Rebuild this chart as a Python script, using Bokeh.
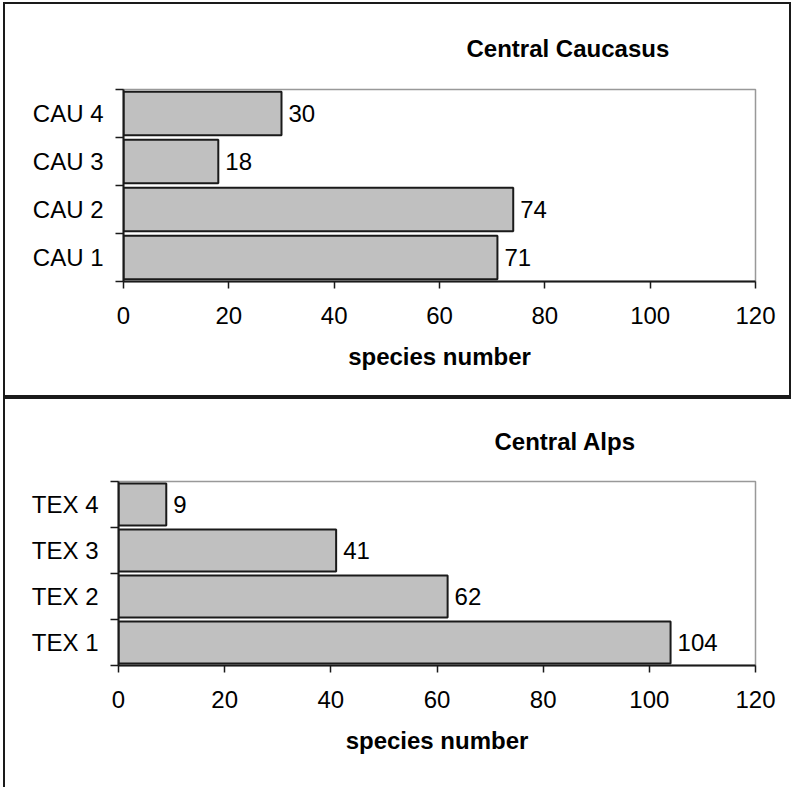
from bokeh.plotting import figure
from bokeh.models import (Range1d, FactorRange, LinearAxis, FixedTicker,
                          ColumnDataSource, LabelSet)
from bokeh.layouts import column
from bokeh.core.properties import value
from bokeh.embed import file_html
from bokeh.resources import INLINE

# ---- data -------------------------------------------------------------
cau_sites = ["CAU 1", "CAU 2", "CAU 3", "CAU 4"]
cau_species = [71, 74, 18, 30]
tex_sites = ["TEX 1", "TEX 2", "TEX 3", "TEX 4"]
tex_species = [104, 62, 41, 9]
x_ticks = [0, 20, 40, 60, 80, 100, 120]
panel_titles = ["Central Caucasus", "Central Alps"]
x_label = "species number"

FONT = "Liberation Sans"
DARK = "#1a1a1a"


def make_panel(sites, values, title, width, height, mb, title_offset, title_standoff, styles):
    p = figure(width=width, height=height,
               x_range=Range1d(0, 120),
               y_range=FactorRange(factors=sites, factor_padding=0, range_padding=0),
               y_axis_type=None,
               output_backend="svg", toolbar_location=None,
               min_border_left=mb[0], min_border_right=mb[1],
               min_border_top=mb[2], min_border_bottom=mb[3])
    p.frame_align = False
    p.grid.visible = False
    p.outline_line_color = "#999999"
    p.outline_line_width = 1.5
    p.background_fill_color = "white"
    p.border_fill_color = "white"
    p.styles = styles

    # x axis (the default one, below the frame)
    xa = p.below[0]
    xa.ticker = FixedTicker(ticks=x_ticks)
    xa.major_tick_in = 0
    xa.major_tick_out = 7
    xa.major_tick_line_color = DARK
    xa.major_tick_line_width = 1.5
    xa.minor_tick_line_color = None
    xa.axis_line_color = DARK
    xa.axis_line_width = 2
    xa.major_label_text_font = FONT
    xa.major_label_text_font_size = "24px"
    xa.major_label_text_color = "black"
    xa.major_label_standoff = 18
    xa.axis_label = x_label
    xa.axis_label_text_font = FONT
    xa.axis_label_text_font_size = "24px"
    xa.axis_label_text_font_style = "bold"
    xa.axis_label_text_color = "black"
    xa.axis_label_standoff = 16

    p.title.text = title
    p.title.align = "left"
    p.title.offset = title_offset
    p.title.vertical_align = "bottom"
    p.title.standoff = title_standoff
    p.title.text_font = FONT
    p.title.text_font_size = "24px"
    p.title.text_font_style = "bold"
    p.title.text_color = "black"

    src = ColumnDataSource(dict(site=sites, n=values, txt=[str(v) for v in values]))
    p.hbar(y="site", left=0, right="n", height=0.91, source=src,
           fill_color="#c0c0c0", line_color=DARK, line_width=2)

    p.add_layout(LabelSet(x="n", y="site", text="txt", source=src, x_offset=7,
                          text_baseline="middle", text_align="left",
                          text_font=value(FONT), text_font_size=value("24px"),
                          text_color="black"))

    # y axis: labels at category centres, ticks at category boundaries
    n = len(sites)
    centres = [i + 0.5 for i in range(n)]
    bounds = [float(i) for i in range(n + 1)]
    ya = LinearAxis(ticker=FixedTicker(ticks=centres, minor_ticks=bounds),
                    major_label_overrides={c: s for c, s in zip(centres, sites)})
    ya.major_tick_line_color = None
    ya.minor_tick_in = 0
    ya.minor_tick_out = 8
    ya.minor_tick_line_color = DARK
    ya.minor_tick_line_width = 1.5
    ya.axis_line_color = DARK
    ya.axis_line_width = 2
    ya.major_label_text_font = FONT
    ya.major_label_text_font_size = "24px"
    ya.major_label_text_color = "black"
    ya.major_label_standoff = 12
    p.add_layout(ya, "left")
    return p


border = "2px solid #1a1a1a"
top = make_panel(cau_sites, cau_species, panel_titles[0], 788, 395,
                 (118, 38, 84, 118), 343, 56,
                 {"border": border})
bottom = make_panel(tex_sites, tex_species, panel_titles[1], 788, 390,
                    (113, 38, 81, 124), 376, 53,
                    {"border-top": border, "border-left": border})

layout = column(top, bottom, spacing=0,
                styles={"margin-left": "3px", "margin-top": "2px"})
open("out.html", "w").write(file_html(layout, INLINE))
